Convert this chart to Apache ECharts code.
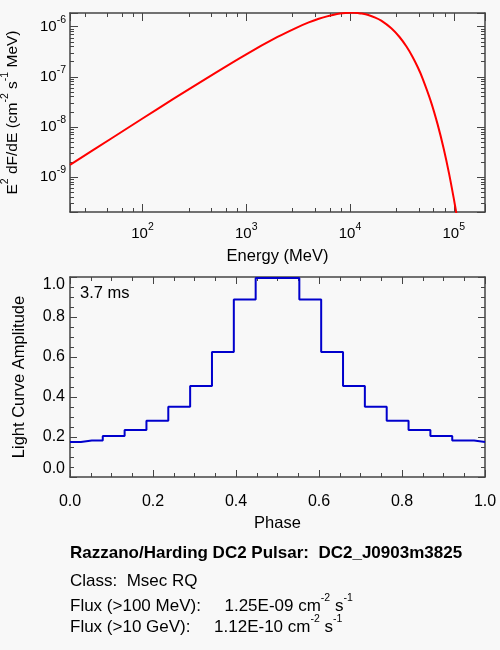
<!DOCTYPE html>
<html>
<head>
<meta charset="utf-8">
<script src="https://cdn.jsdelivr.net/npm/echarts@6/dist/echarts.min.js"></script>
<style>
  html, body { margin: 0; padding: 0; background: #f8f8f8; }
  #chart { width: 500px; height: 650px; }
</style>
</head>
<body>
<div id="chart"></div>
<script>
// top panel: spectrum (E in MeV, E^2 dF/dE)
const energy = [20, 50, 100, 200, 500, 1000, 2000, 3000, 4000, 5000, 6000, 7000, 8000, 9000,
  10000, 11000, 12000, 13000, 15000, 17500, 20000, 25000, 30000, 35000, 40000, 45000, 50000,
  60000, 70000, 80000, 90000, 100000, 105000, 110000];
const sed = [1.74e-9, 5.87e-9, 1.47e-8, 3.66e-8, 1.19e-7, 2.82e-7, 6.24e-7, 9.42e-7, 1.22e-6,
  1.44e-6, 1.61e-6, 1.74e-6, 1.83e-6, 1.88e-6, 1.90e-6, 1.90e-6, 1.87e-6, 1.83e-6, 1.71e-6,
  1.52e-6, 1.32e-6, 9.31e-7, 6.24e-7, 4.02e-7, 2.52e-7, 1.55e-7, 9.35e-8, 3.28e-8, 1.11e-8,
  3.66e-9, 1.18e-9, 3.73e-10, 2.09e-10, 1.17e-10];
const energyRange = [20, 2e5];
const sedRange = [2e-10, 1.88e-6];

// bottom panel: light curve (19 phase bins)
const phase = [0, 0.0526, 0.1053, 0.1579, 0.2105, 0.2632, 0.3158, 0.3684, 0.4211, 0.4737,
  0.5263, 0.5789, 0.6316, 0.6842, 0.7368, 0.7895, 0.8421, 0.8947, 0.9474, 1];
const amplitude = [0.175, 0.183, 0.205, 0.235, 0.281, 0.351, 0.455, 0.625, 0.888, 0.995,
  0.995, 0.888, 0.625, 0.455, 0.351, 0.281, 0.235, 0.205, 0.183, 0.175];

const period = '3.7 ms';
const infoLines = [
  '{t|Razzano/Harding DC2 Pulsar:  DC2_J0903m3825}',
  '{a|Class:  Msec RQ}',
  '{a|Flux (>100 MeV):     1.25E-09 cm}{s|-2}{a| s}{s|-1}',
  '{a|Flux (>10 GeV):     1.12E-10 cm}{s|-2}{a| s}{s|-1}'
];
const infoY = [553, 581, 606, 627];

const font = "'Liberation Sans', Arial, Helvetica, sans-serif";
const axisColor = '#444';
const textColor = '#000';

// label rich styles (b: tick base, n: axis name, a/t: info text, s: superscripts)
const rich = {
  b: { fontSize: 15, fontFamily: font, color: textColor, lineHeight: 24 },
  s: { fontSize: 10.5, fontFamily: font, color: textColor, verticalAlign: 'top' },
  n: { fontSize: 15.5, fontFamily: font, color: textColor, lineHeight: 26 },
  a: { fontSize: 17, fontFamily: font, color: textColor, lineHeight: 26 },
  t: { fontSize: 17, fontFamily: font, color: textColor, lineHeight: 26, fontWeight: 'bold' }
};

function powLabel(v) {
  const e = Math.log10(v);
  const r = Math.round(e);
  if (Math.abs(e - r) > 1e-6) return '';
  return '{b|10}{s|' + r + '}';
}

function boxAxis(extra) {
  return Object.assign({
    axisLine: { show: true, onZero: false, lineStyle: { color: axisColor, width: 1.5 } },
    axisTick: { show: true, inside: true, length: 8, lineStyle: { color: axisColor } },
    minorTick: { show: true, length: 4, lineStyle: { color: axisColor } },
    splitLine: { show: false },
    axisLabel: { show: false }
  }, extra);
}

const chart = echarts.init(document.getElementById('chart'), null, { renderer: 'canvas' });

const logX = { type: 'log', gridIndex: 0, min: energyRange[0], max: energyRange[1] };
const logY = { type: 'log', gridIndex: 0, min: sedRange[0], max: sedRange[1] };
const linX = { type: 'value', gridIndex: 1, min: 0, max: 1, interval: 0.2 };
const linY = { type: 'value', gridIndex: 1, min: 0, max: 1, interval: 0.2 };
const nameStyle = { fontSize: 16.5, fontFamily: font, color: textColor };
const linLabel = { show: true, formatter: v => v.toFixed(1), fontSize: 16, fontFamily: font, color: textColor };

chart.setOption({
  backgroundColor: '#f8f8f8',
  animation: false,
  grid: [
    { left: 70, top: 13, width: 415, height: 199, containLabel: false, outerBoundsMode: 'none' },
    { left: 70, top: 277, width: 415, height: 200, containLabel: false, outerBoundsMode: 'none' }
  ],
  xAxis: [
    boxAxis(Object.assign({}, logX, {
      position: 'bottom',
      minorTick: { show: true, splitNumber: 5, length: 4, lineStyle: { color: axisColor } },
      axisLabel: { show: true, formatter: powLabel, rich: rich, margin: 10,
        showMinLabel: false, showMaxLabel: false },
      name: 'Energy (MeV)', nameLocation: 'middle', nameGap: 36, nameTextStyle: nameStyle
    })),
    boxAxis(Object.assign({}, logX, {
      position: 'top',
      minorTick: { show: true, splitNumber: 5, length: 4, lineStyle: { color: axisColor } }
    })),
    boxAxis(Object.assign({}, linX, {
      position: 'bottom',
      axisTick: { show: true, inside: true, length: 7, lineStyle: { color: axisColor } },
      minorTick: { show: true, splitNumber: 4, length: 4, lineStyle: { color: axisColor } },
      axisLabel: Object.assign({ margin: 17 }, linLabel),
      name: 'Phase', nameLocation: 'middle', nameGap: 38, nameTextStyle: nameStyle
    })),
    boxAxis(Object.assign({}, linX, {
      position: 'top',
      axisTick: { show: true, inside: true, length: 7, lineStyle: { color: axisColor } },
      minorTick: { show: true, splitNumber: 4, length: 4, lineStyle: { color: axisColor } }
    }))
  ],
  yAxis: [
    boxAxis(Object.assign({}, logY, {
      position: 'left',
      minorTick: { show: true, splitNumber: 9, length: 4, lineStyle: { color: axisColor } },
      axisLabel: { show: true, formatter: powLabel, rich: rich, margin: 4,
        showMinLabel: false, showMaxLabel: false },
      name: '{n|E}{s|2}{n| dF/dE (cm}{s|-2}{n| s}{s|-1}{n| MeV)}',
      nameLocation: 'middle', nameGap: 44, nameRotate: 90,
      nameTextStyle: { rich: rich }
    })),
    boxAxis(Object.assign({}, logY, {
      position: 'right',
      minorTick: { show: true, splitNumber: 9, length: 4, lineStyle: { color: axisColor } }
    })),
    boxAxis(Object.assign({}, linY, {
      position: 'left',
      axisTick: { show: true, inside: true, length: 7, lineStyle: { color: axisColor } },
      minorTick: { show: true, splitNumber: 4, length: 4, lineStyle: { color: axisColor } },
      axisLabel: Object.assign({ margin: 5, verticalAlignMaxLabel: 'top',
        verticalAlignMinLabel: 'bottom' }, linLabel),
      name: 'Light Curve Amplitude', nameLocation: 'middle', nameGap: 42, nameTextStyle: nameStyle
    })),
    boxAxis(Object.assign({}, linY, {
      position: 'right',
      axisTick: { show: true, inside: true, length: 7, lineStyle: { color: axisColor } },
      minorTick: { show: true, splitNumber: 4, length: 4, lineStyle: { color: axisColor } }
    }))
  ],
  series: [
    {
      type: 'line',
      xAxisIndex: 0,
      yAxisIndex: 0,
      data: energy.map((e, i) => [e, sed[i]]),
      showSymbol: false,
      smooth: 0.3,
      clip: true,
      lineStyle: { color: '#ff0000', width: 2 }
    },
    {
      type: 'line',
      xAxisIndex: 2,
      yAxisIndex: 2,
      step: 'middle',
      data: phase.map((p, i) => [p, amplitude[i]]),
      showSymbol: false,
      clip: true,
      lineStyle: { color: '#0000cc', width: 2 }
    }
  ],
  graphic: [
    {
      type: 'text', x: 80, y: 293,
      style: { text: period, fontSize: 16.5, fontFamily: font, fill: textColor, verticalAlign: 'middle' }
    }
  ].concat(infoLines.map((line, i) => ({
    type: 'text', x: 70, y: infoY[i],
    style: { text: line, rich: rich, fill: textColor, verticalAlign: 'middle' }
  })))
});
</script>
</body>
</html>
